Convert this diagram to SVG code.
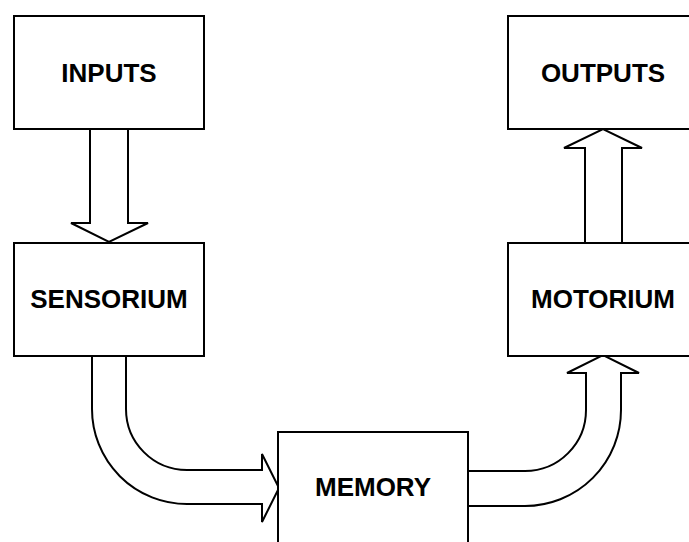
<svg xmlns="http://www.w3.org/2000/svg" width="689" height="542" viewBox="0 0 689 542">
<style>
.box{fill:#fff;stroke:#000;stroke-width:2}
.arr{fill:#fff;stroke:#000;stroke-width:2;stroke-linejoin:miter}
.lbl{font-family:"Liberation Sans",Arial,sans-serif;font-weight:bold;font-size:26px;fill:#000;text-anchor:middle}
</style>
<rect width="689" height="542" fill="#fff"/>
<g id="connectors">
<path class="arr" d="M90,129 V223 H71 L109,242 L148,223 H128 V129"/>
<path class="arr" d="M585,242 V148 H564 L603,129 L642,148 H622 V242"/>
<path class="arr" d="M92,356 V409 A95,95 0 0 0 187,504 H262 V522 L279,488 L262,454 V470 H187 A61,61 0 0 1 126,409 V356"/>
<path class="arr" d="M468,471 H525 A61,61 0 0 0 586,410 V373 H567 L603,355 L639,373 H621 V410 A96,96 0 0 1 525,506 H468"/>
</g>
<g id="inputs"><rect class="box" x="14" y="16" width="190" height="113"/><text class="lbl" x="109" y="81.5">INPUTS</text></g>
<g id="sensorium"><rect class="box" x="14" y="243" width="190" height="113"/><text class="lbl" x="109" y="308">SENSORIUM</text></g>
<g id="memory"><rect class="box" x="278" y="432" width="190" height="113"/><text class="lbl" x="373" y="496">MEMORY</text></g>
<g id="motorium"><rect class="box" x="508" y="243" width="190" height="113"/><text class="lbl" x="603" y="308">MOTORIUM</text></g>
<g id="outputs"><rect class="box" x="508" y="16" width="190" height="113"/><text class="lbl" x="603" y="81.5">OUTPUTS</text></g>
</svg>
